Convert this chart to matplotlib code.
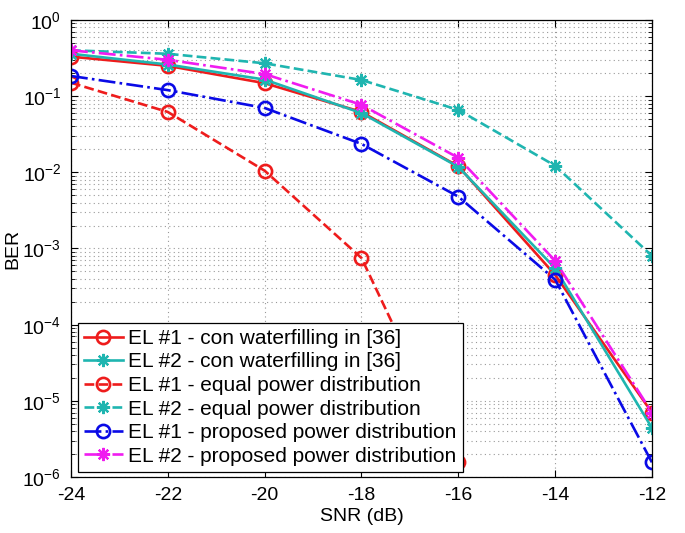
import matplotlib
matplotlib.use('Agg')
import matplotlib.pyplot as plt
import numpy as np

plt.rcParams['font.family'] = ['Liberation Sans', 'DejaVu Sans']
plt.rcParams['axes.unicode_minus'] = False
plt.rcParams['mathtext.fontset'] = 'custom'
plt.rcParams['mathtext.rm'] = 'Liberation Sans'
plt.rcParams['mathtext.it'] = 'Liberation Sans'

snr = [-24, -22, -20, -18, -16, -14, -12]

el1_wf = [0.33, 0.25, 0.148, 0.062, 0.012, 4.5e-4, 7.0e-6]
el2_wf = [0.36, 0.26, 0.165, 0.060, 0.0118, 5.5e-4, 4.4e-6]
el1_eq = [0.15, 0.062, 0.0105, 7.5e-4, 1.55e-6, np.nan, np.nan]
el2_eq = [0.40, 0.36, 0.27, 0.163, 0.066, 0.0122, 8.0e-4]
el1_prop = [0.184, 0.12, 0.07, 0.0236, 0.0048, 3.9e-4, 1.55e-6]
el2_prop = [0.40, 0.30, 0.195, 0.077, 0.0155, 6.9e-4, 7.0e-6]

labels = [
    'EL #1 - con waterfilling in [36]',
    'EL #2 - con waterfilling in [36]',
    'EL #1 - equal power distribution',
    'EL #2 - equal power distribution',
    'EL #1 - proposed power distribution',
    'EL #2 - proposed power distribution',
]

red = '#ee1c1c'
teal = '#1fb5b0'
blue = '#0a0ae6'
mag = '#f01cf0'
star = (8, 2, 0)

fig = plt.figure(figsize=(6.85, 5.33), dpi=100)
ax = fig.add_axes([0.1036, 0.1051, 0.8482, 0.8574])

lw = 1.9
circ = dict(marker='o', ms=9.5, mfc='none', mew=1.9)
ast = dict(marker=star, ms=9.5, mew=1.6)
ax.semilogy(snr, el1_wf, '-', color=red, lw=lw, label=labels[0], **circ)
ax.semilogy(snr, el2_wf, '-', color=teal, lw=lw, label=labels[1], **ast)
ax.semilogy(snr, el1_eq, '--', color=red, lw=lw, label=labels[2], **circ)
ax.semilogy(snr, el2_eq, '--', color=teal, lw=lw, label=labels[3], **ast)
ax.semilogy(snr, el1_prop, '-.', color=blue, lw=lw, label=labels[4], **circ)
ax.semilogy(snr, el2_prop, '-.', color=mag, lw=lw, label=labels[5], **ast)

ax.set_xlim(-24, -12)
ax.set_ylim(1e-6, 1)
ax.set_xticks(snr)
ax.set_yticks([1e-6, 1e-5, 1e-4, 1e-3, 1e-2, 1e-1, 1])

grid_ls = (0, (1, 3))
ax.grid(True, which='major', ls=grid_ls, color='#999999', lw=0.8)
ax.grid(True, which='minor', axis='y', ls=grid_ls, color='#999999', lw=0.8)
ax.tick_params(which='both', direction='in', top=True, right=True, labelsize=14, pad=7)
ax.tick_params(which='major', length=5)
ax.tick_params(which='minor', length=3)
for s in ax.spines.values():
    s.set_linewidth(0.9)

ax.set_xlabel('SNR (dB)', fontsize=14, labelpad=3)
ax.set_ylabel('BER', fontsize=14, labelpad=1)

leg = ax.legend(loc='lower left', bbox_to_anchor=(7 / 581, 5 / 457), borderaxespad=0,
                fontsize=15, frameon=True, fancybox=False, edgecolor='black',
                framealpha=1, borderpad=0.3, labelspacing=0.22,
                handlelength=1.85, handletextpad=0.25)
leg.get_frame().set_linewidth(0.9)

fig.savefig('out.png', dpi=100)
